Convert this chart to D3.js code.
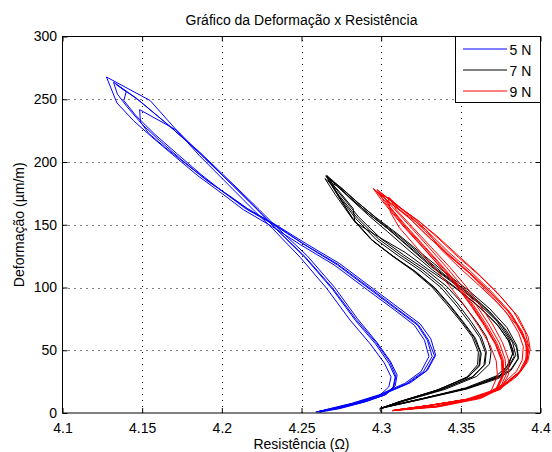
<!DOCTYPE html>
<html>
<head>
<meta charset="utf-8">
<script src="https://cdn.jsdelivr.net/npm/d3@7/dist/d3.min.js"></script>
<style>
  html, body { margin: 0; padding: 0; background: #fff; }
  svg { display: block; }
  text { font-family: "Liberation Sans", Arial, Helvetica, sans-serif; fill: #000; }
</style>
</head>
<body>
<svg id="chart" width="552" height="452"></svg>
<script>
// Eixos
const xTicks = [4.1, 4.15, 4.2, 4.25, 4.3, 4.35, 4.4];
const xTickLabels = ["4.1", "4.15", "4.2", "4.25", "4.3", "4.35", "4.4"];
const yTicks = [0, 50, 100, 150, 200, 250, 300];
const yTickLabels = ["0", "50", "100", "150", "200", "250", "300"];

const seriesNames = ["5 N", "7 N", "9 N"];
const seriesColors = ["#0000ff", "#000000", "#ff0000"];

// Ensaios com carga de 5 N: [resistência (Ω), deformação (µm/m)], ciclo a ciclo
const ciclos5N = [
  [[4.2590,0.8],[4.2712,3.4],[4.2868,8.5],[4.2988,13.8],[4.3048,20.8],[4.3062,28.8],[4.3020,39.8],[4.2932,55],[4.2805,74],[4.2660,99],[4.2492,124],[4.2318,147],[4.2205,161],[4.2040,182],[4.1860,205],[4.1718,225],[4.1550,249],[4.1276,267.7],
   [4.1342,247],[4.1445,233],[4.1560,220],[4.1690,206],[4.1850,189],[4.2000,175],[4.2135,162],[4.2310,149],[4.2495,134],[4.2705,118],[4.2915,98],[4.3085,82],[4.3208,70],[4.3272,58],[4.3300,45],[4.3250,33],[4.3148,23.6],[4.2982,14.3],[4.2815,7.7],[4.2655,2.8]],
  [[4.2605,1],[4.2745,4],[4.2910,9.4],[4.3032,14.8],[4.3088,21.6],[4.3100,30.2],[4.3058,41.2],[4.2975,56],[4.2852,75],[4.2708,100],[4.2538,125],[4.2345,148],[4.2235,162],[4.2065,183],[4.1860,208],[4.1640,232],[4.1462,251],[4.1320,263.6],
   [4.1345,254],[4.1405,244],[4.1500,230],[4.1610,217],[4.1745,202],[4.1900,186],[4.2045,173],[4.2165,162],[4.2338,150],[4.2528,135],[4.2740,119],[4.2950,99],[4.3118,83],[4.3245,71],[4.3312,59],[4.3342,46],[4.3290,34],[4.3182,24],[4.3015,15],[4.2845,8],[4.2680,3]],
  [[4.2612,0.6],[4.2740,3.5],[4.2895,8.7],[4.3015,14],[4.3075,20.6],[4.3088,28.6],[4.3048,39.6],[4.2965,55],[4.2840,73.5],[4.2695,98.5],[4.2525,123.5],[4.2338,147],[4.2232,161],[4.2068,181.5],[4.1870,206],[4.1660,230],[4.1480,249],[4.1335,262],
   [4.1400,256],[4.1385,249],[4.1460,237],[4.1580,222],[4.1715,207],[4.1870,190],[4.2010,176],[4.2148,163],[4.2325,150],[4.2515,134.5],[4.2728,118.5],[4.2940,98.5],[4.3105,82.5],[4.3232,70.5],[4.3295,58.5],[4.3335,45.5],[4.3282,33.5],[4.3170,23.8],[4.3000,14.6],[4.2832,7.9],[4.2668,2.9],[4.2600,1]],
  [[4.2600,1],[4.2730,3.9],[4.2895,9.1],[4.3022,14.4],[4.3080,21.2],[4.3092,29.4],[4.3055,40.4],[4.2970,55.8],[4.2842,74.6],[4.2695,99.6],[4.2522,124.6],[4.2330,148],[4.2225,161.8],[4.2072,181],[4.1892,203],[4.1718,225.2],[4.1484,241.7],
   [4.1489,232],[4.1540,223],[4.1640,212],[4.1770,199],[4.1920,184],[4.2060,172],[4.2160,163],[4.2335,150],[4.2520,134],[4.2725,118],[4.2935,98],[4.3102,82],[4.3228,70],[4.3290,58],[4.3320,45],[4.3265,33],[4.3160,23.5],[4.2995,14.2],[4.2825,7.6],[4.2662,2.6],[4.2590,0.8]]
];

// Ensaios com carga de 7 N
const ciclos7N = [
  [[4.2996,1.0],[4.2992,3.7],[4.3117,9],[4.3367,18.3],[4.357,28.6],[4.3645,38],[4.3655,48],[4.362,60],[4.3555,72],[4.347,86],[4.3375,100],[4.325,113],[4.311,125],[4.297,138],[4.284,155],[4.272,175],[4.2652,189],
   [4.270,184],[4.280,172],[4.293,158],[4.306,145],[4.320,130],[4.334,115],[4.350,100],[4.364,85],[4.3755,70],[4.3825,56],[4.3845,46],[4.380,36],[4.3743,29],[4.3535,19.6],[4.322,10.3],[4.3034,5]],
  [[4.3010,4],[4.3145,9.5],[4.3400,18.8],[4.3600,29.2],[4.3680,39],[4.3690,49],[4.3660,61],[4.3598,73],[4.3512,87],[4.3410,101],[4.3282,114],[4.3140,126],[4.2998,139],[4.2860,156],[4.2732,176],[4.2658,189.4],
   [4.2715,183],[4.2830,170],[4.2965,156],[4.3100,143],[4.3245,128],[4.3390,113],[4.3545,98],[4.3682,83],[4.3790,68],[4.3850,54],[4.3862,44],[4.3815,35],[4.3728,28],[4.3525,19],[4.3205,10],[4.3020,4.6]],
  [[4.3002,3.9],[4.3120,9.2],[4.3360,18.6],[4.3540,28.8],[4.3605,38.5],[4.3610,48.5],[4.3572,60.5],[4.3502,72.5],[4.3412,86.5],[4.3318,100.5],[4.3198,113.5],[4.3065,125.5],[4.2935,138.5],[4.2818,155],[4.2712,174],[4.2647,186.8],
   [4.2730,177.5],[4.2824,163],[4.2835,152],[4.3002,139],[4.3150,128],[4.3300,114],[4.3450,101],[4.3595,87],[4.3718,72],[4.3798,58],[4.3825,47],[4.3788,37],[4.3722,29.5],[4.3530,20],[4.3230,10.6],[4.3040,5.2]],
  [[4.2995,3.5],[4.3108,8.8],[4.3345,18],[4.3540,28.2],[4.3618,37.5],[4.3628,47.5],[4.3592,59.5],[4.3522,71.5],[4.3435,85.5],[4.3340,99.5],[4.3218,112.5],[4.3080,124.5],[4.2948,137],[4.2832,153],[4.2735,172],[4.2680,186],
   [4.2745,180],[4.2860,167],[4.2990,153],[4.3120,140],[4.3260,125],[4.3400,110],[4.3550,96],[4.3680,81],[4.3785,66],[4.3850,52],[4.3860,43],[4.3815,34],[4.3735,27.5],[4.3540,19.2],[4.3225,10],[4.3030,4.8]],
  [[4.3015,4.2],[4.3135,9.4],[4.3380,18.6],[4.3578,29],[4.3652,38.8],[4.3660,49],[4.3628,60.8],[4.3565,72.8],[4.3482,86.8],[4.3388,100.8],[4.3262,113.8],[4.3122,125.8],[4.2982,138.8],[4.2850,155.5],[4.2735,173.5],[4.2668,185],
   [4.2720,181],[4.2810,171],[4.2918,159],[4.3040,147],[4.3175,132],[4.3310,117],[4.3458,103],[4.3605,88],[4.3728,73],[4.3802,59],[4.3830,49],[4.3802,39],[4.3745,30],[4.3548,20],[4.3235,10.5],[4.3025,4.4]],
  [[4.2998,3.8],[4.3118,9.1],[4.3355,18.4],[4.3548,28.7],[4.3615,38.2],[4.3622,48.2],[4.3582,60.2],[4.3512,72.2],[4.3425,86.2],[4.3330,100.2],[4.3208,113.2],[4.3072,125.2],[4.2940,138.2],[4.2820,155.2],[4.2718,175.5],[4.2662,188],
   [4.2712,182.5],[4.2800,171.5],[4.2920,157.5],[4.3040,144.5],[4.3180,129],[4.3322,114],[4.3478,99],[4.3620,84],[4.3738,69],[4.3812,55],[4.3835,45],[4.3792,35.5],[4.3732,28.5],[4.3528,19.4],[4.3215,10.2],[4.2992,3.7]]
];

// Ensaios com carga de 9 N
const ciclos9N = [
  [[4.3075,2],[4.330,6],[4.355,11],[4.372,18],[4.3765,30],[4.376,42],[4.372,55],[4.365,70],[4.357,85],[4.348,100],[4.338,115],[4.326,132],[4.313,150],[4.300,170],[4.295,179],
   [4.305,168],[4.318,155],[4.330,140],[4.343,125],[4.357,110],[4.370,94],[4.382,78],[4.389,62],[4.392,50],[4.391,40],[4.386,31],[4.375,20],[4.362,12],[4.335,5]],
  [[4.3090,2.4],[4.3320,6.4],[4.3575,11.6],[4.3750,18.8],[4.3800,31],[4.3798,43],[4.3762,56],[4.3698,71],[4.3620,86],[4.3532,101],[4.3432,116],[4.3315,132],[4.3190,149],[4.3095,162],[4.3050,171.6],
   [4.3125,163],[4.3245,152],[4.3360,139],[4.3485,124],[4.3622,109],[4.3748,93],[4.3858,77],[4.3922,61],[4.3935,51],[4.3920,41],[4.3870,32],[4.3758,21],[4.3622,12.6],[4.3345,5.3]],
  [[4.3080,2.2],[4.3310,6.2],[4.3560,11.4],[4.3728,18.4],[4.3770,30.5],[4.3766,42.5],[4.3728,55.5],[4.3660,70.5],[4.3582,85.5],[4.3494,100.5],[4.3395,115.5],[4.3278,132],[4.3150,150],[4.3030,168],[4.2965,177],
   [4.3060,167],[4.3180,156],[4.3284,145.6],[4.3370,131],[4.3490,116],[4.3620,101],[4.3745,86],[4.3850,70],[4.3905,57],[4.3915,46],[4.3895,37],[4.3850,29],[4.3750,19.5],[4.3625,11.6],[4.3355,4.8]],
  [[4.3070,1.8],[4.3290,5.8],[4.3530,10.8],[4.3690,17.6],[4.3730,29.5],[4.3722,41.5],[4.3682,54.5],[4.3610,69.5],[4.3530,84.5],[4.3440,99.5],[4.3342,114.5],[4.3228,131],[4.3112,148],[4.3058,160],[4.3045,172],
   [4.3100,164],[4.3195,153],[4.3300,140],[4.3420,126],[4.3555,111],[4.3680,95],[4.3792,79],[4.3862,64],[4.3892,53],[4.3885,42],[4.3848,33],[4.3752,22],[4.3625,13],[4.3350,5.5]],
  [[4.3085,2.3],[4.3315,6.3],[4.3565,11.5],[4.3742,18.6],[4.3785,30.8],[4.3778,42.8],[4.3742,55.8],[4.3675,70.8],[4.3598,85.8],[4.3510,100.8],[4.3412,115.8],[4.3298,132.2],[4.3172,150],[4.3050,167],[4.2990,176],
   [4.3075,168],[4.3190,157],[4.3305,143],[4.3425,128],[4.3560,113],[4.3690,97],[4.3805,81],[4.3885,65],[4.3920,54],[4.3918,43],[4.3875,33.5],[4.3770,22.5],[4.3640,13.2],[4.3360,5.6]],
  [[4.3078,2.1],[4.3305,6.1],[4.3552,11.2],[4.3722,18.2],[4.3762,30.2],[4.3758,42.2],[4.3720,55.2],[4.3652,70.2],[4.3575,85.2],[4.3488,100.2],[4.3390,115.2],[4.3272,132],[4.3145,149.5],[4.3055,164],[4.3010,174],
   [4.3100,165],[4.3225,154],[4.3350,141],[4.3470,127],[4.3600,112],[4.3728,96],[4.3835,80],[4.3905,64],[4.3928,52],[4.3915,41.5],[4.3862,32],[4.3750,21],[4.3615,12.4],[4.3340,5.1]],
  [[4.3072,1.9],[4.3300,5.9],[4.3548,11],[4.3715,17.9],[4.3760,29.8],[4.3755,41.8],[4.3716,54.8],[4.3646,69.8],[4.3568,84.8],[4.3480,99.8],[4.3382,114.8],[4.3266,131.5],[4.3140,149.5],[4.3018,168.5],[4.2975,178],
   [4.3065,169],[4.3185,156.5],[4.3300,142],[4.3415,127.5],[4.3550,112.5],[4.3680,97],[4.3795,81],[4.3878,65.5],[4.3912,54],[4.3908,43],[4.3868,33],[4.3758,21.5],[4.3625,12.8],[4.3348,5.2],[4.3075,2]]
];

const series = [ciclos5N, ciclos7N, ciclos9N];

// Geometria do gráfico
const plot = { left: 62.5, right: 540.5, top: 36.5, bottom: 413 };
const tickLen = 5;

const svg = d3.select("#chart");

const x = d3.scaleLinear().domain([4.1, 4.4]).range([plot.left, plot.right]);
const y = d3.scaleLinear().domain([0, 300]).range([plot.bottom, plot.top]);

// Grade pontilhada
const grid = svg.append("g").attr("stroke", "#000").attr("stroke-width", 1)
  .attr("stroke-dasharray", "1,5").attr("fill", "none");
xTicks.slice(1, -1).forEach(t => {
  const px = Math.round(x(t)) + 0.5;
  grid.append("line").attr("x1", px).attr("x2", px).attr("y1", plot.bottom).attr("y2", plot.top);
});
yTicks.slice(1, -1).forEach(t => {
  const py = Math.round(y(t)) + 0.5;
  grid.append("line").attr("x1", plot.left).attr("x2", plot.right).attr("y1", py).attr("y2", py);
});

// Curvas
svg.append("clipPath").attr("id", "area").append("rect")
  .attr("x", plot.left).attr("y", plot.top)
  .attr("width", plot.right - plot.left).attr("height", plot.bottom - plot.top);

const line = d3.line().x(d => x(d[0])).y(d => y(d[1]));
const curves = svg.append("g").attr("clip-path", "url(#area)");
series.forEach((ciclos, i) => {
  curves.append("path")
    .datum(ciclos.flat())
    .attr("d", line)
    .attr("fill", "none")
    .attr("stroke", seriesColors[i])
    .attr("stroke-width", 1)
    .attr("stroke-linejoin", "round");
});

// Eixos com marcas internas nos quatro lados
const axisBottom = d3.axisBottom(x).tickValues(xTicks).tickFormat((d, i) => xTickLabels[i])
  .tickSizeInner(-tickLen).tickSizeOuter(0);
const axisLeft = d3.axisLeft(y).tickValues(yTicks).tickFormat((d, i) => yTickLabels[i])
  .tickSizeInner(-tickLen).tickSizeOuter(0);
const axisTop = d3.axisTop(x).tickValues(xTicks).tickFormat("").tickSizeInner(-tickLen).tickSizeOuter(0);
const axisRight = d3.axisRight(y).tickValues(yTicks).tickFormat("").tickSizeInner(-tickLen).tickSizeOuter(0);

function styleAxis(g) {
  g.select(".domain").remove();
  g.selectAll(".tick line").attr("stroke", "#000");
  g.selectAll(".tick text").attr("font-size", 14).attr("fill", "#000")
    .attr("font-family", "'Liberation Sans', Arial, sans-serif");
}

svg.append("g").attr("transform", `translate(0,${plot.bottom})`).call(axisBottom).call(styleAxis)
  .selectAll(".tick text").attr("dy", null).attr("y", 19.5);
svg.append("g").attr("transform", `translate(${plot.left},0)`).call(axisLeft).call(styleAxis)
  .selectAll(".tick text").attr("x", -5.5);
svg.append("g").attr("transform", `translate(0,${plot.top})`).call(axisTop).call(styleAxis);
svg.append("g").attr("transform", `translate(${plot.right},0)`).call(axisRight).call(styleAxis);

// Moldura
svg.append("rect")
  .attr("x", plot.left).attr("y", plot.top)
  .attr("width", plot.right - plot.left).attr("height", plot.bottom - plot.top)
  .attr("fill", "none").attr("stroke", "#000").attr("stroke-width", 1);

// Título e rótulos
svg.append("text").attr("x", (plot.left + plot.right) / 2).attr("y", 25)
  .attr("text-anchor", "middle").attr("font-size", 14)
  .text("Gráfico da Deformação x Resistência");
svg.append("text").attr("x", (plot.left + plot.right) / 2).attr("y", 449)
  .attr("text-anchor", "middle").attr("font-size", 14)
  .text("Resistência (Ω)");
svg.append("text")
  .attr("transform", `translate(23.5,${(plot.top + plot.bottom) / 2}) rotate(-90)`)
  .attr("text-anchor", "middle").attr("font-size", 14)
  .text("Deformação (µm/m)");

// Legenda
const leg = { x: 455.5, y: 36.5, w: 85, h: 66 };
const legend = svg.append("g");
legend.append("rect").attr("x", leg.x).attr("y", leg.y).attr("width", leg.w).attr("height", leg.h)
  .attr("fill", "#fff").attr("stroke", "#000").attr("stroke-width", 1);
seriesNames.forEach((name, i) => {
  const ly = 49 + i * 21;
  legend.append("line").attr("x1", leg.x + 7.5).attr("x2", leg.x + 51.5)
    .attr("y1", ly).attr("y2", ly)
    .attr("stroke", seriesColors[i]).attr("stroke-width", 1);
  legend.append("text").attr("x", leg.x + 54).attr("y", ly + 5.5)
    .attr("font-size", 14).text(name);
});
</script>
</body>
</html>
